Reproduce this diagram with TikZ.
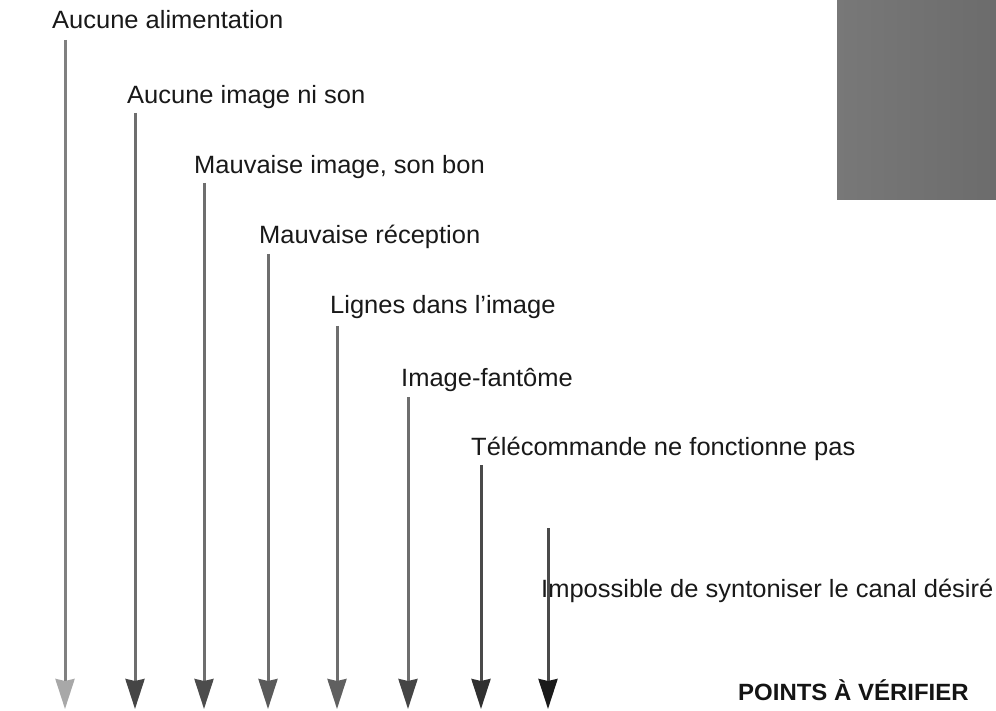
\documentclass[tikz,border=0pt]{standalone}
\usepackage{fontspec}
\setmainfont{Liberation Sans}[FakeStretch=1.02]
\usetikzlibrary{arrows.meta}
\definecolor{boxL}{HTML}{787878}
\definecolor{boxR}{HTML}{6C6C6C}
\definecolor{lnA}{HTML}{808080}
\definecolor{lnB}{HTML}{6E6E6E}
\definecolor{lnC}{HTML}{4A4A4A}
\definecolor{hdA}{HTML}{A8A8A8}
\definecolor{hdB}{HTML}{454545}
\definecolor{hdC}{HTML}{4C4C4C}
\definecolor{hdD}{HTML}{5A5A5A}
\definecolor{hdE}{HTML}{606060}
\definecolor{hdF}{HTML}{454545}
\definecolor{hdG}{HTML}{303030}
\definecolor{hdH}{HTML}{1A1A1A}
\tikzset{
  lbl/.style={anchor=base west, inner sep=0pt, font=\fontsize{25}{30}\selectfont, text=black!90},
  head/.style={anchor=base west, inner sep=0pt, font=\fontsize{23.5}{28}\selectfont\bfseries, text=black!92},
  arr/.style={line width=3pt, draw=#1},
  tip/.style={-{Stealth[length=30pt,width=19pt,inset=2pt,color=#1]}}
}
\begin{document}
\begin{tikzpicture}[x=1pt,y=-1pt]
\useasboundingbox (0,0) rectangle (996,711);
\fill[white] (0,0) rectangle (996,711);
\shade[left color=boxL, right color=boxR] (837,0) rectangle (996,200);
\node[lbl] (t1) at (52,29) {Aucune alimentation};
\node[lbl] (t2) at (127,104) {Aucune image ni son};
\node[lbl] (t3) at (194,174) {Mauvaise image, son bon};
\node[lbl] (t4) at (259,244) {Mauvaise réception};
\node[lbl] (t5) at (330,313) {Lignes dans l’image};
\node[lbl] (t6) at (401,386) {Image-fantôme};
\node[lbl] (t7) at (471,455) {Télécommande ne fonctionne pas};
\node[lbl] (t8) at (541,597) {Impossible de syntoniser le canal désiré};
\node[head] (t9) at (738,700) {POINTS À VÉRIFIER};
\coordinate (s1) at (65,40);  \coordinate (e1) at (65,709);
\coordinate (s2) at (135,113); \coordinate (e2) at (135,709);
\coordinate (s3) at (204,183); \coordinate (e3) at (204,709);
\coordinate (s4) at (268,254); \coordinate (e4) at (268,709);
\coordinate (s5) at (337,326); \coordinate (e5) at (337,709);
\coordinate (s6) at (408,397); \coordinate (e6) at (408,709);
\coordinate (s7) at (481,465); \coordinate (e7) at (481,709);
\coordinate (s8) at (548,528); \coordinate (e8) at (548,709);
\draw[arr=lnA, tip=hdA] (s1) -- (e1);
\draw[arr=lnB, tip=hdB] (s2) -- (e2);
\draw[arr=lnB, tip=hdC] (s3) -- (e3);
\draw[arr=lnB, tip=hdD] (s4) -- (e4);
\draw[arr=lnB, tip=hdE] (s5) -- (e5);
\draw[arr=lnB, tip=hdF] (s6) -- (e6);
\draw[arr=lnC, tip=hdG] (s7) -- (e7);
\draw[arr=lnC, tip=hdH] (s8) -- (e8);
\end{tikzpicture}
\end{document}
